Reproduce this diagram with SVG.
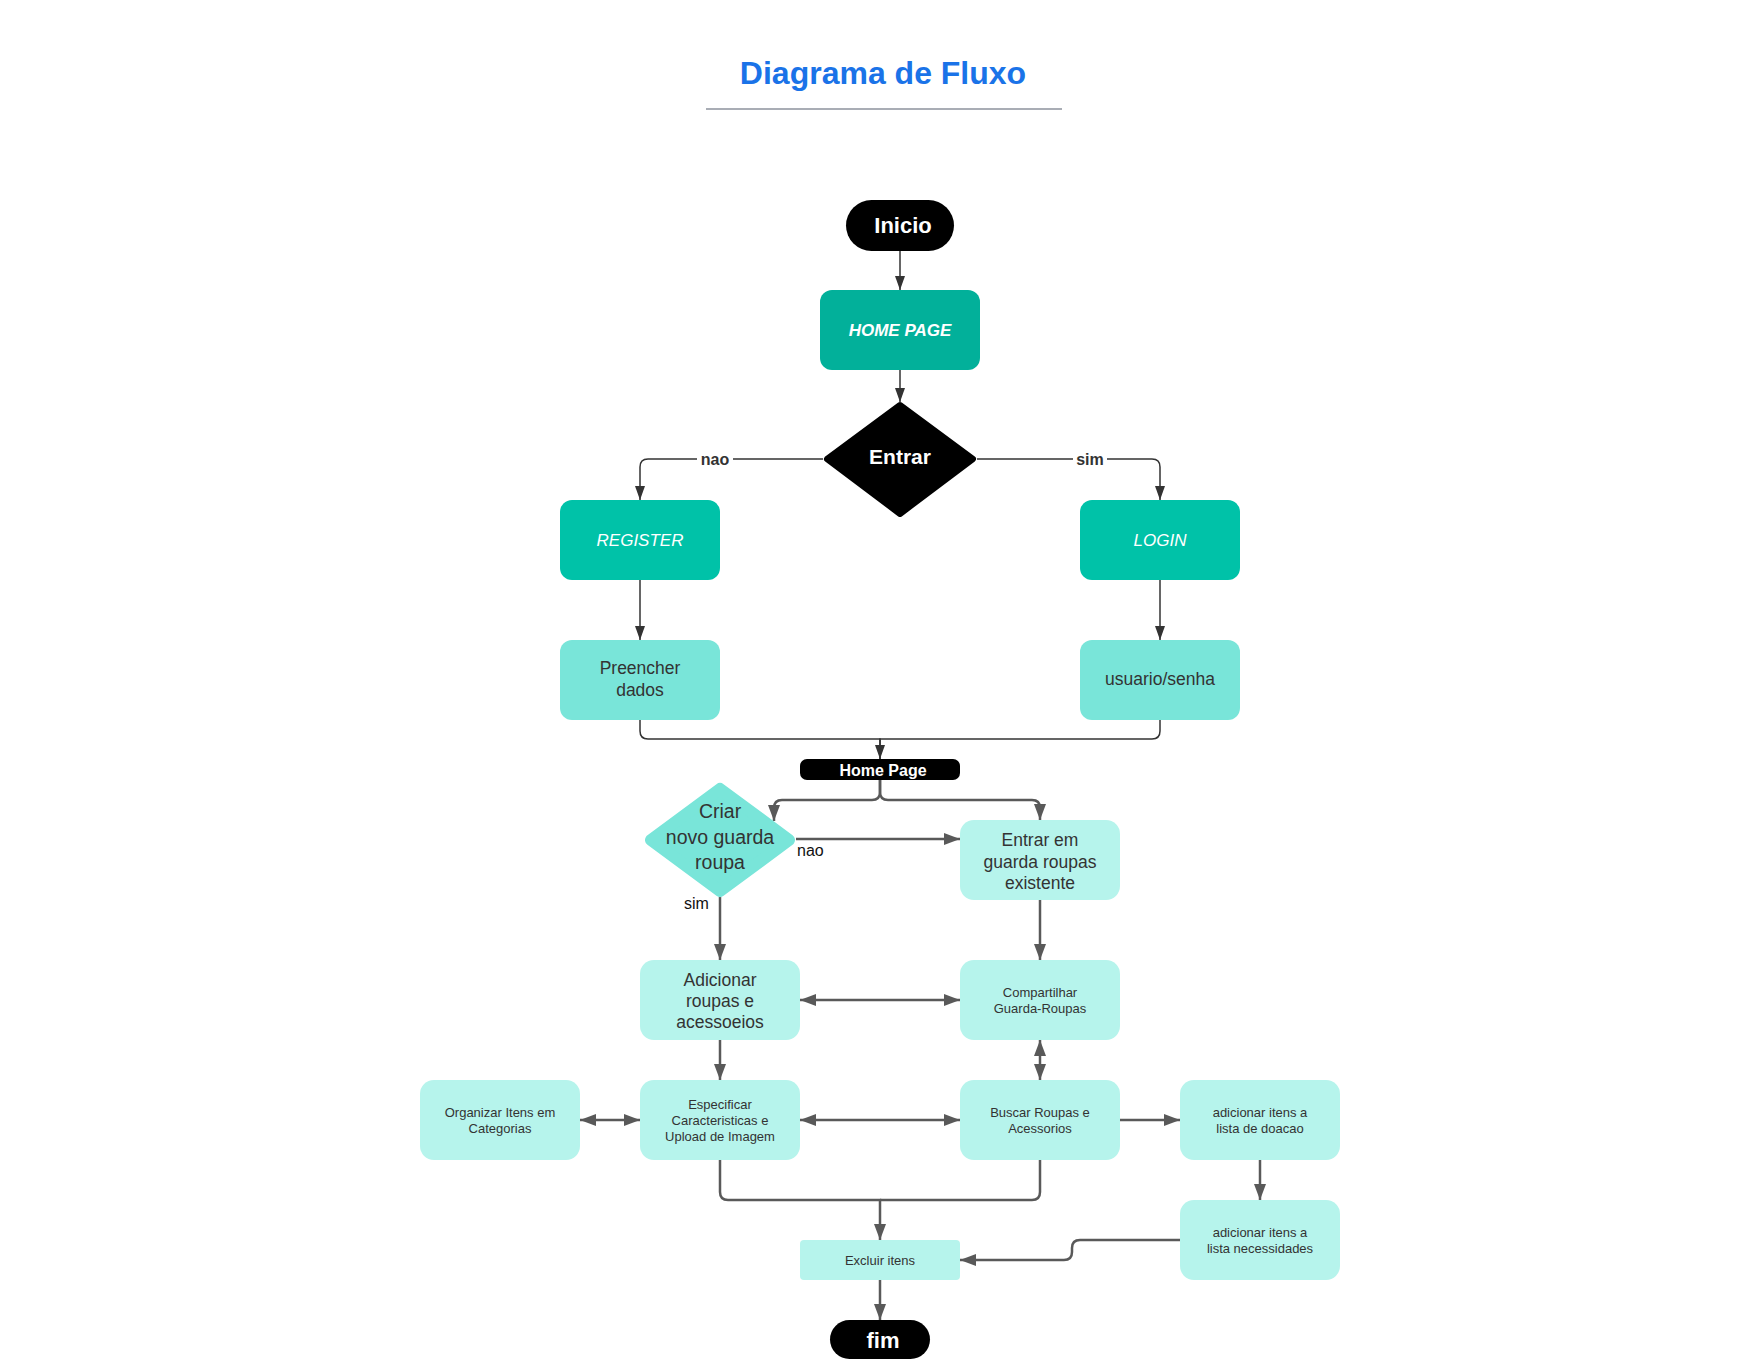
<svg xmlns="http://www.w3.org/2000/svg" width="1760" height="1360" viewBox="0 0 1760 1360">
<defs>
<style>
text{font-family:"Liberation Sans",Arial,sans-serif;text-anchor:middle}
.t-title{font-size:32px;font-weight:bold;fill:#1a73e8}
.t-term{font-size:22px;font-weight:bold;fill:#fff}
.t-hp{font-size:17px;font-weight:bold;font-style:italic;fill:#fff}
.t-it{font-size:17px;font-style:italic;fill:#fff}
.t-dec{font-size:21px;font-weight:bold;fill:#fff}
.t-lbl{font-size:16px;font-weight:bold;fill:#333}
.t-lbl2{font-size:16px;fill:#111;text-anchor:start}
.t-md{font-size:17.5px;fill:#333}
.t-lg{font-size:19.5px;fill:#333}
.t-sm{font-size:13px;fill:#333}
.t-pill{font-size:16px;font-weight:bold;fill:#fff}
.term{fill:#000}
.teal1{fill:#02b09a}
.teal2{fill:#00c2a8}
.teal3{fill:#79e5d9}
.teal4{fill:#b6f4ec}
.c1{fill:none;stroke:#333;stroke-width:1.5}
.c2{fill:none;stroke:#595959;stroke-width:2.5}
</style>
<marker id="a1" viewBox="0 0 14 10" refX="14" refY="5" markerWidth="14" markerHeight="10" markerUnits="userSpaceOnUse" orient="auto-start-reverse"><path d="M0,0 L14,5 L0,10 Z" fill="#333"/></marker>
<marker id="a2" viewBox="0 0 16 12" refX="16" refY="6" markerWidth="16" markerHeight="12" markerUnits="userSpaceOnUse" orient="auto-start-reverse"><path d="M0,0 L16,6 L0,12 Z" fill="#595959"/></marker>
</defs>
<rect width="1760" height="1360" fill="#fff"/>
<g id="title">
<text class="t-title" x="883" y="84">Diagrama de Fluxo</text>
<line x1="706" y1="109" x2="1062" y2="109" stroke="#a9adb5" stroke-width="2"/>
</g>
<g id="connectors">
<path class="c1" d="M900,251 V290" marker-end="url(#a1)"/>
<path class="c1" d="M900,370 V402" marker-end="url(#a1)"/>
<path class="c1" d="M823,459 H648 Q640,459 640,467 V500" marker-end="url(#a1)"/>
<path class="c1" d="M977,459 H1152 Q1160,459 1160,467 V500" marker-end="url(#a1)"/>
<path class="c1" d="M640,580 V640" marker-end="url(#a1)"/>
<path class="c1" d="M1160,580 V640" marker-end="url(#a1)"/>
<path class="c1" d="M640,720 V731 Q640,739 648,739 H880 V759" marker-end="url(#a1)"/>
<path class="c1" d="M1160,720 V731 Q1160,739 1152,739 H880 V759"/>
<path class="c2" d="M880,780 V792 Q880,800 872,800 H782 Q774,800 774,808 V821" marker-end="url(#a2)"/>
<path class="c2" d="M880,780 V792 Q880,800 888,800 H1032 Q1040,800 1040,808 V820" marker-end="url(#a2)"/>
<path class="c2" d="M796,839 H960" marker-end="url(#a2)"/>
<path class="c2" d="M720,897 V960" marker-end="url(#a2)"/>
<path class="c2" d="M1040,900 V960" marker-end="url(#a2)"/>
<path class="c2" d="M800,1000 H960" marker-start="url(#a2)" marker-end="url(#a2)"/>
<path class="c2" d="M720,1040 V1080" marker-end="url(#a2)"/>
<path class="c2" d="M1040,1040 V1080" marker-start="url(#a2)" marker-end="url(#a2)"/>
<path class="c2" d="M580,1120 H640" marker-start="url(#a2)" marker-end="url(#a2)"/>
<path class="c2" d="M800,1120 H960" marker-start="url(#a2)" marker-end="url(#a2)"/>
<path class="c2" d="M1120,1120 H1180" marker-end="url(#a2)"/>
<path class="c2" d="M1260,1160 V1200" marker-end="url(#a2)"/>
<path class="c2" d="M720,1160 V1192 Q720,1200 728,1200 H880 V1240" marker-end="url(#a2)"/>
<path class="c2" d="M1040,1160 V1192 Q1040,1200 1032,1200 H880"/>
<path class="c2" d="M1180,1240 H1080 Q1072,1240 1072,1248 V1252 Q1072,1260 1064,1260 H960" marker-end="url(#a2)"/>
<path class="c2" d="M880,1280 V1320" marker-end="url(#a2)"/>
<rect x="697" y="449" width="36" height="20" fill="#fff"/>
<text class="t-lbl" x="715" y="465">nao</text>
<rect x="1073" y="449" width="34" height="20" fill="#fff"/>
<text class="t-lbl" x="1090" y="465">sim</text>
<text class="t-lbl2" x="797" y="856">nao</text>
<text class="t-lbl2" x="684" y="909">sim</text>
</g>
<g id="inicio"><rect class="term" x="846" y="200" width="108" height="51" rx="25.5"/><text class="t-term" x="903" y="233">Inicio</text></g>
<g id="homepage"><rect class="teal1" x="820" y="290" width="160" height="80" rx="12"/><text class="t-hp" x="900" y="336">HOME PAGE</text></g>
<g id="entrar"><polygon points="900,405 973,459 900,514 827,459" fill="#000" stroke="#000" stroke-width="6" stroke-linejoin="round"/><text class="t-dec" x="900" y="464">Entrar</text></g>
<g id="register"><rect class="teal2" x="560" y="500" width="160" height="80" rx="12"/><text class="t-it" x="640" y="546">REGISTER</text></g>
<g id="login"><rect class="teal2" x="1080" y="500" width="160" height="80" rx="12"/><text class="t-it" x="1160" y="546">LOGIN</text></g>
<g id="preencher"><rect class="teal3" x="560" y="640" width="160" height="80" rx="12"/><text class="t-md" x="640" y="674">Preencher</text><text class="t-md" x="640" y="696">dados</text></g>
<g id="usuario"><rect class="teal3" x="1080" y="640" width="160" height="80" rx="12"/><text class="t-md" x="1160" y="685">usuario/senha</text></g>
<g id="homepage2"><rect class="term" x="800" y="759" width="160" height="21" rx="7"/><text class="t-pill" x="883" y="776">Home Page</text></g>
<g id="criar"><polygon points="720,789 789,840 720,891 651,840" fill="#79e5d9" stroke="#79e5d9" stroke-width="12" stroke-linejoin="round"/><text class="t-lg" x="720" y="818">Criar</text><text class="t-lg" x="720" y="844">novo guarda</text><text class="t-lg" x="720" y="869">roupa</text></g>
<g id="entrarem"><rect class="teal4" x="960" y="820" width="160" height="80" rx="14"/><text class="t-md" x="1040" y="846">Entrar em</text><text class="t-md" x="1040" y="868">guarda roupas</text><text class="t-md" x="1040" y="889">existente</text></g>
<g id="adicionar"><rect class="teal4" x="640" y="960" width="160" height="80" rx="14"/><text class="t-md" x="720" y="986">Adicionar</text><text class="t-md" x="720" y="1007">roupas e</text><text class="t-md" x="720" y="1028">acessoeios</text></g>
<g id="compartilhar"><rect class="teal4" x="960" y="960" width="160" height="80" rx="14"/><text class="t-sm" x="1040" y="997">Compartilhar</text><text class="t-sm" x="1040" y="1013">Guarda-Roupas</text></g>
<g id="organizar"><rect class="teal4" x="420" y="1080" width="160" height="80" rx="14"/><text class="t-sm" x="500" y="1117">Organizar Itens em</text><text class="t-sm" x="500" y="1133">Categorias</text></g>
<g id="especificar"><rect class="teal4" x="640" y="1080" width="160" height="80" rx="14"/><text class="t-sm" x="720" y="1109">Especificar</text><text class="t-sm" x="720" y="1125">Caracteristicas e</text><text class="t-sm" x="720" y="1141">Upload de Imagem</text></g>
<g id="buscar"><rect class="teal4" x="960" y="1080" width="160" height="80" rx="14"/><text class="t-sm" x="1040" y="1117">Buscar Roupas e</text><text class="t-sm" x="1040" y="1133">Acessorios</text></g>
<g id="doacao"><rect class="teal4" x="1180" y="1080" width="160" height="80" rx="14"/><text class="t-sm" x="1260" y="1117">adicionar itens a</text><text class="t-sm" x="1260" y="1133">lista de doacao</text></g>
<g id="necessidades"><rect class="teal4" x="1180" y="1200" width="160" height="80" rx="14"/><text class="t-sm" x="1260" y="1237">adicionar itens a</text><text class="t-sm" x="1260" y="1253">lista necessidades</text></g>
<g id="excluir"><rect class="teal4" x="800" y="1240" width="160" height="40" rx="4"/><text class="t-sm" x="880" y="1265">Excluir itens</text></g>
<g id="fim"><rect class="term" x="830" y="1320" width="100" height="39" rx="19.5"/><text class="t-term" x="883" y="1348">fim</text></g>
</svg>
